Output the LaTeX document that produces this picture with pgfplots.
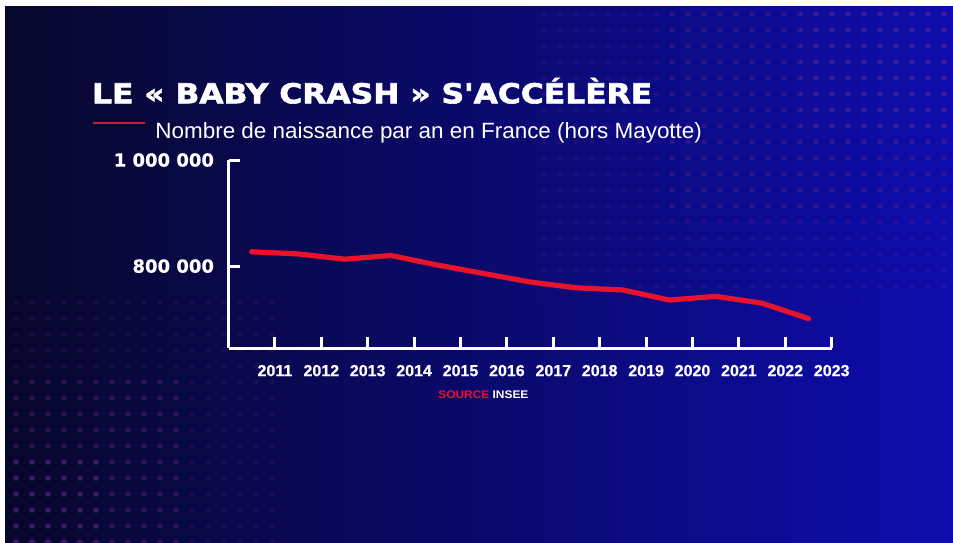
\documentclass[border=0pt]{standalone}
\usepackage{fontspec}
\setmainfont{Liberation Sans}
\newfontfamily\dejavu{DejaVu Sans}[BoldFeatures={FakeBold=0.5}]
\newfontfamily\heavy{DejaVu Sans}[UprightFeatures={FakeBold=2.2}, BoldFeatures={FakeBold=2.2}]
\newfontfamily\lib{Liberation Sans}
\newfontfamily\libheavy{Liberation Sans}[BoldFeatures={FakeBold=0.6}]
\usepackage{pgfplots}
\pgfplotsset{compat=1.18}
\usetikzlibrary{patterns.meta}
\definecolor{bgdark}{RGB}{7,7,44}
\definecolor{bgmid}{RGB}{10,10,96}
\definecolor{bgright}{RGB}{14,12,172}
\definecolor{linered}{RGB}{232,18,42}
\definecolor{legred}{RGB}{190,35,50}
\definecolor{dotc}{RGB}{120,40,140}
\begin{document}
\begin{tikzpicture}
\useasboundingbox (0pt,0pt) rectangle (476.5pt,-271pt);
\fill[white] (0pt,0pt) rectangle (476.5pt,-271pt);
\shade[left color=bgdark, middle color=bgmid, right color=bgright] (2.5pt,-3pt) rectangle (476.5pt,-271pt);
% dotted texture
\fill[pattern={Dots[distance=8pt, radius=1.4pt]}, pattern color=dotc, opacity=0.15] (270pt,-3pt) rectangle (476.5pt,-150pt);
\fill[pattern={Dots[distance=8pt, radius=1.4pt]}, pattern color=dotc, opacity=0.2] (330pt,-3pt) rectangle (476.5pt,-110pt);
\fill[pattern={Dots[distance=8pt, radius=1.4pt]}, pattern color=dotc, opacity=0.25] (400pt,-3pt) rectangle (476.5pt,-70pt);
\fill[pattern={Dots[distance=8pt, radius=1.4pt]}, pattern color=dotc, opacity=0.15] (2.5pt,-150pt) rectangle (140pt,-271pt);
\fill[pattern={Dots[distance=8pt, radius=1.4pt]}, pattern color=dotc, opacity=0.2] (2.5pt,-190pt) rectangle (90pt,-271pt);
\fill[pattern={Dots[distance=8pt, radius=1.4pt]}, pattern color=dotc, opacity=0.25] (2.5pt,-225pt) rectangle (50pt,-271pt);
% title
\node[anchor=base west, inner sep=0pt, text=white] at (45.85pt,-51.65pt)
  {\resizebox{280pt}{10pt}{\heavy\bfseries\smash{LE « BABY CRASH » S'ACCÉLÈRE}\vphantom{E}}};
% legend
\draw[legred, line width=1pt] (46.5pt,-61.65pt) -- (72.5pt,-61.65pt);
\node[anchor=base west, inner sep=0pt, text=white] at (77.5pt,-69pt)
  {\resizebox{273.3pt}{7.6pt}{\lib\smash{Nombre de naissance par an en France (hors Mayotte)}\vphantom{N}}};
% source
\node[anchor=base west, inner sep=0pt] at (219pt,-199.15pt)
  {\resizebox{45pt}{3.85pt}{\lib\bfseries\smash{\textcolor{linered}{SOURCE} \textcolor{white}{INSEE}}\vphantom{S}}};
\begin{axis}[
  at={(114.25pt,-174.15pt)}, anchor=south west,
  scale only axis, width=301.6pt, height=94.15pt,
  xmin=2010, xmax=2023, ymin=645000, ymax=1000000,
  axis x line*=bottom, axis y line*=left,
  axis line style={white, line width=1.5pt},
  xtick={2011,2012,2013,2014,2015,2016,2017,2018,2019,2020,2021,2022,2023},
  xticklabels={2011,2012,2013,2014,2015,2016,2017,2018,2019,2020,2021,2022,2023},
  ytick={800000,1000000},
  yticklabels={800 000,1 000 000},
  scaled y ticks=false,
  tick align=inside, major tick length=5.5pt,
  tick style={white, line width=1.5pt},
  xticklabel style={font=\libheavy\bfseries\fontsize{8}{9}\selectfont, text=white, yshift=-4.8pt},
  yticklabel style={font=\dejavu\bfseries\fontsize{9}{10}\selectfont, text=white, xshift=-3.75pt},
  clip=false,
]
\addplot[linered, line width=2.6pt, line join=round, line cap=round] coordinates {
  (2010.5,827000) (2011.5,823000) (2012.5,813000) (2013.5,820000)
  (2014.5,802000) (2015.5,786000) (2016.5,770000) (2017.5,759000)
  (2018.5,755000) (2019.5,736000) (2020.5,743000) (2021.5,730000)
  (2022.5,701000)
};
\end{axis}
\end{tikzpicture}
\end{document}
